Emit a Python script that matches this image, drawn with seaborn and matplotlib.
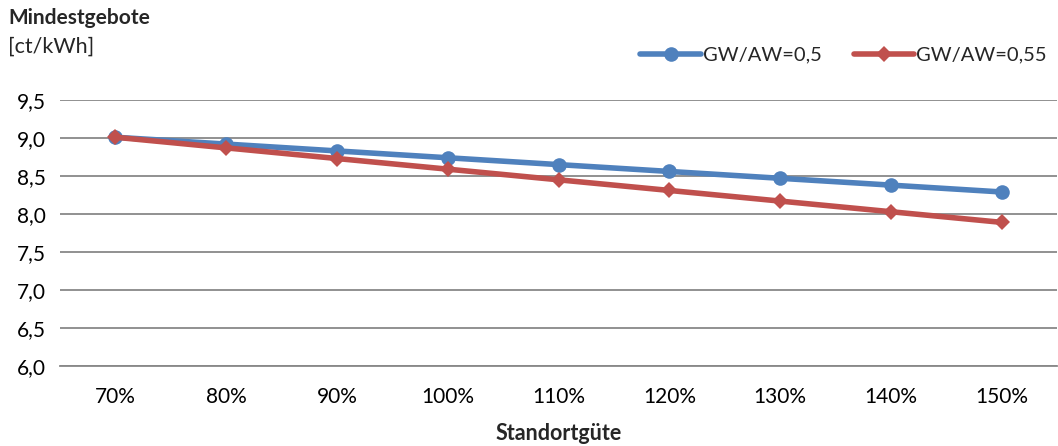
import matplotlib
matplotlib.use("Agg")
import matplotlib.pyplot as plt
import seaborn as sns
import pandas as pd
import numpy as np
from matplotlib.ticker import FixedLocator, FuncFormatter

categories = ["70%", "80%", "90%", "100%", "110%", "120%", "130%", "140%", "150%"]
series_a_name = "GW/AW=0,5"
series_b_name = "GW/AW=0,55"
series_a = [9.01, 8.92, 8.83, 8.74, 8.65, 8.56, 8.47, 8.38, 8.29]
series_b = [9.01, 8.87, 8.73, 8.59, 8.45, 8.31, 8.17, 8.03, 7.89]
y_ticks = [6.0, 6.5, 7.0, 7.5, 8.0, 8.5, 9.0, 9.5]

df = pd.DataFrame({
    "Standortgüte": categories * 2,
    "Wert": series_a + series_b,
    "Serie": [series_a_name] * len(categories) + [series_b_name] * len(categories),
})

sns.set_theme(style="white")
plt.rcParams["font.family"] = ["Lato", "DejaVu Sans"]

fig = plt.figure(figsize=(10.58, 4.46), dpi=100)
ax = fig.add_axes([60 / 1058, 1 - 366 / 446, 997 / 1058, 266 / 446])

colors = {series_a_name: "#4F81BD", series_b_name: "#C0504D"}
lw = 4.0
sns.lineplot(data=df, x="Standortgüte", y="Wert", hue="Serie", style="Serie",
             palette=colors, markers={series_a_name: "o", series_b_name: "D"},
             dashes=False, linewidth=lw, markersize=10.5, markeredgewidth=0,
             sort=False, ax=ax, legend=True)
for line in ax.lines:
    if line.get_marker() == "D":
        line.set_markersize(8.5)

ax.set_ylim(6.0, 9.5)
ax.set_xlim(-0.5, len(categories) - 0.5)
ax.set_yticks(y_ticks)
ax.yaxis.set_major_formatter(FuncFormatter(lambda v, p: f"{v:.1f}".replace(".", ",")))
ax.grid(axis="y", color="#888888", linewidth=1.3)
ax.set_axisbelow(True)
for s in ["left", "right", "top"]:
    ax.spines[s].set_visible(False)
ax.spines["bottom"].set_color("#888888")
ax.spines["bottom"].set_linewidth(1.3)

ax.xaxis.set_minor_locator(FixedLocator(np.arange(-0.5, len(categories), 1.0)))
ax.tick_params(axis="x", which="major", length=0, pad=15, labelsize=15, colors="#000000")
ax.tick_params(axis="x", which="minor", length=8, width=1, color="#888888", direction="out")
ax.tick_params(axis="y", length=0, pad=10.5, labelsize=15, colors="#000000")

ax.set_xlabel("Standortgüte", fontsize=15.5, fontweight="bold", labelpad=12)
ax.set_ylabel("")

leg = ax.legend(loc="center right", bbox_to_anchor=(1.0 - 10 / 997, 1 + 45 / 266), ncol=2,
                frameon=False, fontsize=14.5, handlelength=3.0, columnspacing=1.6,
                handletextpad=0.1, borderaxespad=0, borderpad=0)
for h in leg.legend_handles:
    h.set_linewidth(lw)

fig.text(8 / 1058, 1 - 18 / 446, "Mindestgebote", fontsize=15, fontweight="bold", va="center", ha="left")
fig.text(8 / 1058, 1 - 47 / 446, "[ct/kWh]", fontsize=15.5, va="center", ha="left")

fig.savefig("out.png", dpi=100)
